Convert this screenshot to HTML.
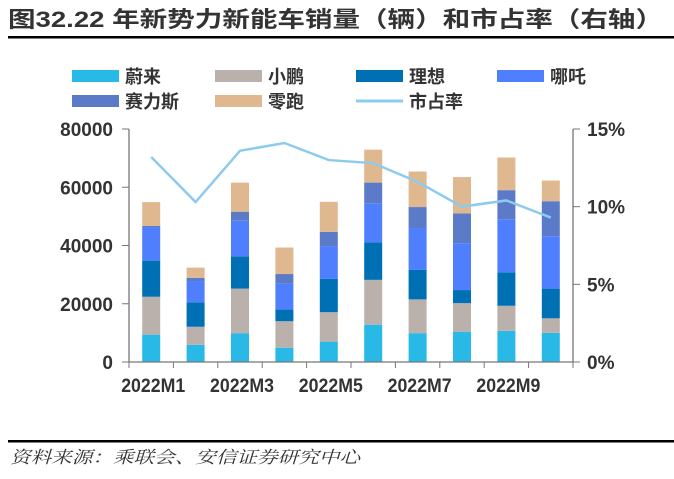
<!DOCTYPE html>
<html><head><meta charset="utf-8"><style>
body{margin:0;background:#fff;width:674px;height:474px;overflow:hidden;font-family:"Liberation Sans","Noto Sans CJK SC",sans-serif}
</style></head><body>
<svg width="674" height="474" xmlns="http://www.w3.org/2000/svg">
<text x="8" y="27" font-size="22" font-weight="bold" fill="#333" textLength="655" lengthAdjust="spacingAndGlyphs" font-family="Liberation Sans,Noto Sans CJK SC,sans-serif">图32.22 年新势力新能车销量（辆）和市占率（右轴）</text>
<rect x="8" y="36" width="666" height="2.5" fill="#000"/>
<rect x="8" y="440" width="666" height="2.5" fill="#000"/>
<text x="10" y="463" font-size="17" font-style="italic" fill="#333" textLength="350" lengthAdjust="spacingAndGlyphs" font-family="Liberation Serif,Noto Serif CJK SC,serif">资料来源：乘联会、安信证券研究中心</text>
<g id="legend"></g>
<g id="plot"></g>
</svg>
<script>
const categories=["2022M1","2022M2","2022M3","2022M4","2022M5","2022M6","2022M7","2022M8","2022M9","2022M10"];
const nio=[9400,5900,9900,4900,7000,12800,9900,10400,10700,10000];
const xpeng=[13000,6200,15300,9100,10100,15400,11600,9800,8600,5000];
const lixiang=[12400,8400,11000,4000,11500,12900,10200,4500,11500,10200];
const neta=[11400,7300,12300,9000,11200,13400,14300,16100,18200,18000];
const seres=[500,1100,3100,3200,4900,7100,7200,10200,10000,12000];
const leap=[8200,3500,10000,9100,10300,11300,12200,12500,11200,7100];
const share=[13.2,10.3,13.6,14.1,13.0,12.8,11.6,10.0,10.4,9.3];
const leftTicks=[0,20000,40000,60000,80000];
const rightTicks=[0,5,10,15];
const xLabels=["2022M1","2022M3","2022M5","2022M7","2022M9"];
const seriesNames=["蔚来","小鹏","理想","哪吒","赛力斯","零跑"];
const colors=["#29B9E6","#BAB0AC","#0070B5","#4F7FFF","#5B7BC8","#E0B890"];
const lineColor="#8DCBEE";
const series=[nio,xpeng,lixiang,neta,seres,leap];
const NS="http://www.w3.org/2000/svg";
const X0=129,X1=573,Y0=362,Y1=129;
const band=(X1-X0)/categories.length;
const xc=i=>X0+band*(i+0.5);
const yL=v=>Y0-(v/80000)*(Y0-Y1);
const yR=v=>Y0-(v/15)*(Y0-Y1);
function mk(tag,attrs,parent){const e=document.createElementNS(NS,tag);for(const k in attrs)e.setAttribute(k,attrs[k]);parent.appendChild(e);return e;}
const plot=document.getElementById('plot');
const legend=document.getElementById('legend');
categories.forEach((c,i)=>{
  let cum=0;
  series.forEach((s,k)=>{
    const r=mk('rect',{x:xc(i)-9,y:yL(cum+s[i]),width:18,height:yL(cum)-yL(cum+s[i]),fill:colors[k]},plot);
    
    
    cum+=s[i];
  });
});
const ax=mk('path',{d:`M${X0} ${Y1}V${Y0}H${X1}V${Y1}`,stroke:"#777",fill:"none","stroke-width":1.3},plot);


for(let i=0;i<=categories.length;i++){mk('line',{x1:X0+band*i,x2:X0+band*i,y1:Y0,y2:Y0+6,stroke:"#777"},plot);}
leftTicks.forEach(v=>{
  mk('line',{x1:X0-7,x2:X0,y1:yL(v),y2:yL(v),stroke:"#777"},plot);
  const t=mk('text',{x:X0-16,y:yL(v)+7,"text-anchor":"end","font-size":19,"font-weight":"bold",fill:"#333"},plot);
  t.textContent=v;
  
  
});
rightTicks.forEach(v=>{
  mk('line',{x1:X1,x2:X1+7,y1:yR(v),y2:yR(v),stroke:"#777"},plot);
  const t=mk('text',{x:X1+14,y:yR(v)+7,"font-size":19,"font-weight":"bold",fill:"#333"},plot);
  t.textContent=v+"%";
  
  
});
xLabels.forEach(l=>{
  const i=categories.indexOf(l);
  const t=mk('text',{x:xc(i)+2,y:392,"text-anchor":"middle","font-size":19,"font-weight":"bold",fill:"#333",textLength:64,lengthAdjust:"spacingAndGlyphs"},plot);
  t.textContent=l;
  
  
});
const ln=mk('polyline',{points:share.map((v,i)=>xc(i)+","+yR(v)).join(" "),fill:"none",stroke:lineColor,"stroke-width":2.5},plot);


const lx=[72,215,356,497];
const items=seriesNames.map((n,k)=>({n:n,c:colors[k],line:false})).concat([{n:"市占率",c:lineColor,line:true}]);
items.forEach((it,k)=>{
  const col=k%4,row=Math.floor(k/4);
  const x=lx[col],y=76+row*25;
  if(it.line) mk('rect',{x:x,y:y-1.5,width:47,height:3,fill:it.c},legend);
  else mk('rect',{x:x,y:y-6,width:47,height:12,fill:it.c},legend);
  const t=mk('text',{x:x+53,y:y+7,"font-size":18,"font-weight":"bold",fill:"#333"},legend);
  t.textContent=it.n;
  
  
});
</script>
</body></html>
